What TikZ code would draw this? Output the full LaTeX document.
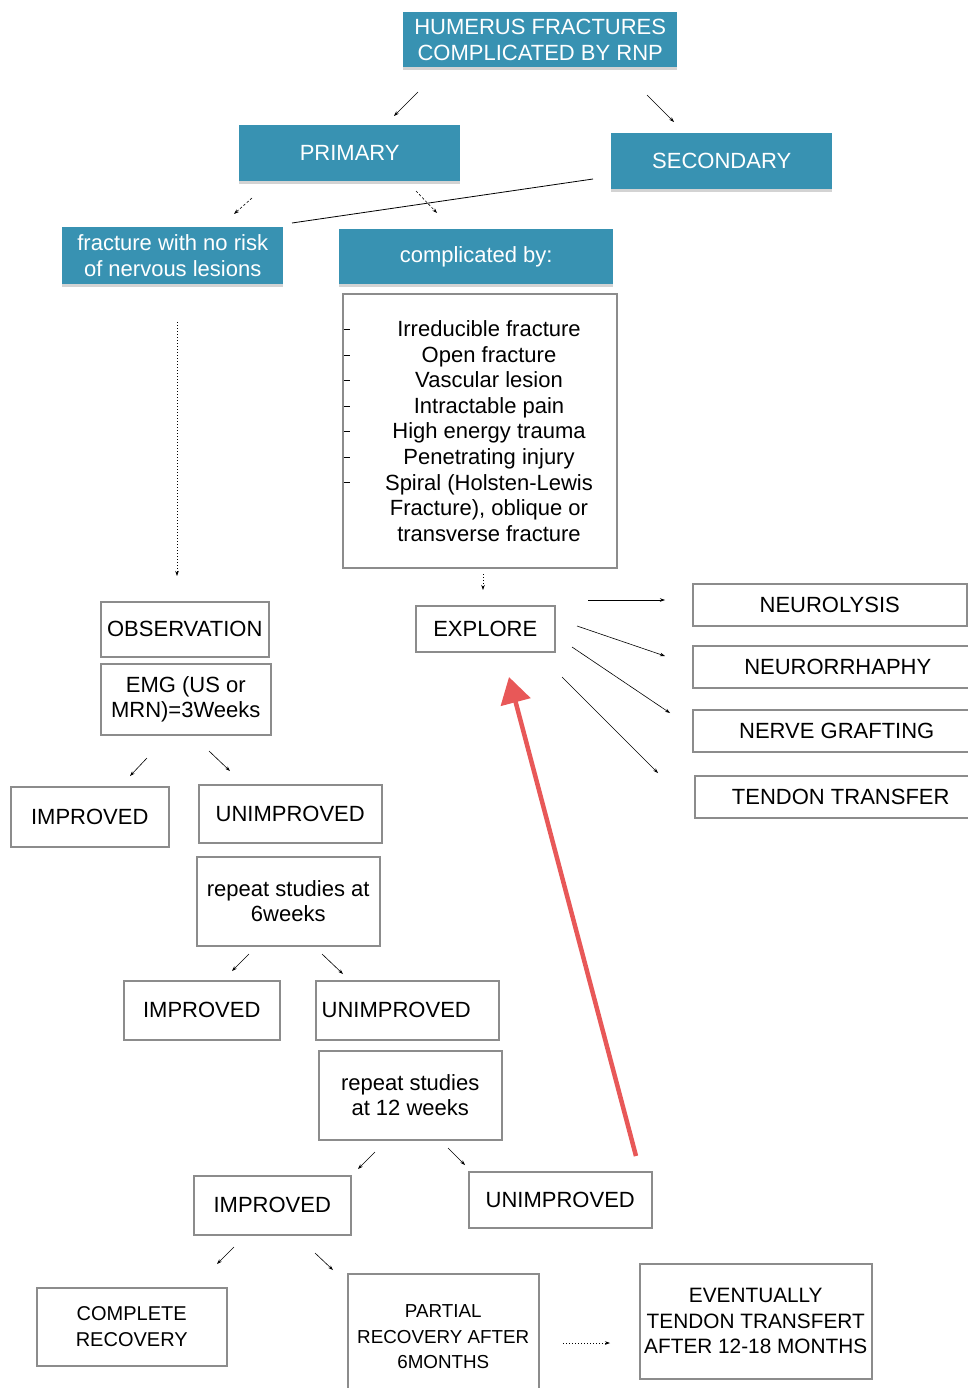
\documentclass[tikz,border=0pt]{standalone}
\usepackage{fontspec}
\setmainfont{Liberation Sans}
\usetikzlibrary{arrows.meta,shadows}
\definecolor{tealbox}{RGB}{56,146,178}
\definecolor{boxgray}{RGB}{140,140,140}
\definecolor{redarrow}{RGB}{232,88,88}
\tikzset{
 tbox/.style={fill=tealbox, text=white, font=\fontsize{22}{25.6}\selectfont, align=center, inner sep=0pt, anchor=north west,
   drop shadow={shadow xshift=0pt,shadow yshift=-3pt,opacity=0.35}},
 wbox/.style={draw=boxgray, line width=1.5pt, fill=white, font=\fontsize{22}{25.6}\selectfont, align=center, inner sep=0pt, anchor=north west},
 txt/.style={font=\fontsize{22}{25.6}\selectfont, align=center, inner sep=0pt},
 arr/.style={-{Stealth[length=5pt,width=3.5pt]}, line width=0.6pt},
 darr/.style={arr, dash pattern=on 2.5pt off 2pt},
 dotarr/.style={arr, dash pattern=on 1.2pt off 1.8pt},
 plainline/.style={line width=0.8pt},
 bigred/.style={draw=redarrow, line width=4.5pt, -{Triangle[length=26pt,width=30pt]}},
 lstdash/.style={line width=0.9pt},
}
\begin{document}
\begin{tikzpicture}[x=1pt,y=-1pt]
\useasboundingbox (0,0) rectangle (968,1388);
% teal boxes
\node[tbox, minimum width=274pt, minimum height=55pt] (hum) at (403,12) {HUMERUS FRACTURES\\COMPLICATED BY RNP};
\node[tbox, minimum width=221pt, minimum height=56pt] (prim) at (239,125) {PRIMARY};
\node[tbox, minimum width=221pt, minimum height=56pt] (sec) at (611,133) {SECONDARY};
\node[tbox, minimum width=221pt, minimum height=57pt] (frac) at (62,227) {fracture with no risk\\ of nervous lesions};
\node[tbox, minimum width=274pt, minimum height=55pt] (comp) at (339,229) {complicated by:};
% list box
\node[wbox, minimum width=274pt, minimum height=274pt] (list) at (342,293) {};
\node[txt] (listtext) at (489,431) {Irreducible fracture\\Open fracture\\Vascular lesion\\Intractable pain\\High energy trauma\\Penetrating injury\\Spiral (Holsten-Lewis\\Fracture), oblique or\\transverse fracture};
\foreach \yy in {0,...,6}{
  \draw[lstdash] (344,{329.5+25.5*\yy}) -- (349.5,{329.5+25.5*\yy});
}
% left column
\node[wbox, minimum width=168pt, minimum height=55pt] (obs) at (100,601) {OBSERVATION};
\node[wbox, minimum width=170pt, minimum height=71pt] (emg) at (100,663) {EMG (US or\\MRN)=3Weeks};
\node[wbox, minimum width=158pt, minimum height=60pt] (imp1) at (10,786) {IMPROVED};
\node[wbox, minimum width=183pt, minimum height=58pt] (unimp1) at (198,784) {UNIMPROVED};
\node[wbox, minimum width=183pt, minimum height=89pt] (rep6) at (196,856) {repeat studies at\\6weeks};
\node[wbox, minimum width=156pt, minimum height=59pt] (imp2) at (123,980) {IMPROVED};
\node[wbox, minimum width=183pt, minimum height=59pt] (unimp2) at (315,980) {UNIMPROVED\hspace*{22pt}};
\node[wbox, minimum width=183pt, minimum height=89pt] (rep12) at (318,1050) {repeat studies\\at 12 weeks};
\node[wbox, minimum width=157pt, minimum height=59pt] (imp3) at (193,1175) {IMPROVED};
\node[wbox, minimum width=183pt, minimum height=56pt] (unimp3) at (468,1171) {UNIMPROVED};
\node[wbox, minimum width=190pt, minimum height=78pt, font=\fontsize{20}{26}\selectfont] (complete) at (36,1287) {COMPLETE\\RECOVERY};
\node[wbox, minimum width=191pt, minimum height=126pt, font=\fontsize{18.8}{25.5}\selectfont] (partial) at (347,1273) {PARTIAL\\RECOVERY AFTER\\6MONTHS};
\node[wbox, minimum width=232pt, minimum height=115pt, font=\fontsize{20.8}{25.5}\selectfont] (event) at (639,1263) {EVENTUALLY\\TENDON TRANSFERT\\AFTER 12-18 MONTHS};
% right side
\node[wbox, minimum width=139pt, minimum height=46pt] (explore) at (415,605) {EXPLORE};
\node[wbox, minimum width=274pt, minimum height=42pt] (neuro) at (692,583) {NEUROLYSIS};
\node[wbox, minimum width=290pt, minimum height=42pt] (neuror) at (692,645) {NEURORRHAPHY};
\node[wbox, minimum width=288pt, minimum height=42pt] (graft) at (692,709) {NERVE GRAFTING};
\node[wbox, minimum width=292pt, minimum height=42pt] (tendon) at (694,775) {TENDON TRANSFER};
% connector end points
\coordinate (a1s) at (418,92);  \coordinate (a1e) at (394,116);
\coordinate (a2s) at (647,95);  \coordinate (a2e) at (674,122);
\coordinate (a3s) at (252,198); \coordinate (a3e) at (234,214);
\coordinate (a4s) at (416,191); \coordinate (a4e) at (437,213);
\coordinate (a5s) at (593,179); \coordinate (a5e) at (292,223);
\coordinate (a6s) at (177,322); \coordinate (a6e) at (177,576);
\coordinate (a7s) at (483,574); \coordinate (a7e) at (483,590);
\coordinate (b1s) at (588,600); \coordinate (b1e) at (665,600);
\coordinate (b2s) at (577,626); \coordinate (b2e) at (665,656);
\coordinate (b3s) at (572,647); \coordinate (b3e) at (670,713);
\coordinate (b4s) at (562,677); \coordinate (b4e) at (658,773);
\coordinate (c1s) at (147,758); \coordinate (c1e) at (130,776);
\coordinate (c2s) at (209,751); \coordinate (c2e) at (230,771);
\coordinate (c3s) at (249,954); \coordinate (c3e) at (232,971);
\coordinate (c4s) at (322,954); \coordinate (c4e) at (343,974);
\coordinate (c5s) at (375,1152); \coordinate (c5e) at (358,1169);
\coordinate (c6s) at (448,1148); \coordinate (c6e) at (465,1165);
\coordinate (c7s) at (234,1247); \coordinate (c7e) at (217,1264);
\coordinate (c8s) at (315,1253); \coordinate (c8e) at (333,1270);
\coordinate (d1s) at (563,1343); \coordinate (d1e) at (610,1343);
\coordinate (rs) at (636,1156);  \coordinate (re) at (509,677);
% connectors
\draw[arr] (a1s) -- (a1e);
\draw[arr] (a2s) -- (a2e);
\draw[darr] (a3s) -- (a3e);
\draw[darr] (a4s) -- (a4e);
\draw[plainline] (a5s) -- (a5e);
\draw[dotarr] (a6s) -- (a6e);
\draw[dotarr] (a7s) -- (a7e);
\draw[arr] (b1s) -- (b1e);
\draw[arr] (b2s) -- (b2e);
\draw[arr] (b3s) -- (b3e);
\draw[arr] (b4s) -- (b4e);
\draw[arr] (c1s) -- (c1e);
\draw[arr] (c2s) -- (c2e);
\draw[arr] (c3s) -- (c3e);
\draw[arr] (c4s) -- (c4e);
\draw[arr] (c5s) -- (c5e);
\draw[arr] (c6s) -- (c6e);
\draw[arr] (c7s) -- (c7e);
\draw[arr] (c8s) -- (c8e);
\draw[dotarr] (d1s) -- (d1e);
\draw[bigred] (rs) -- (re);
\end{tikzpicture}
\end{document}
